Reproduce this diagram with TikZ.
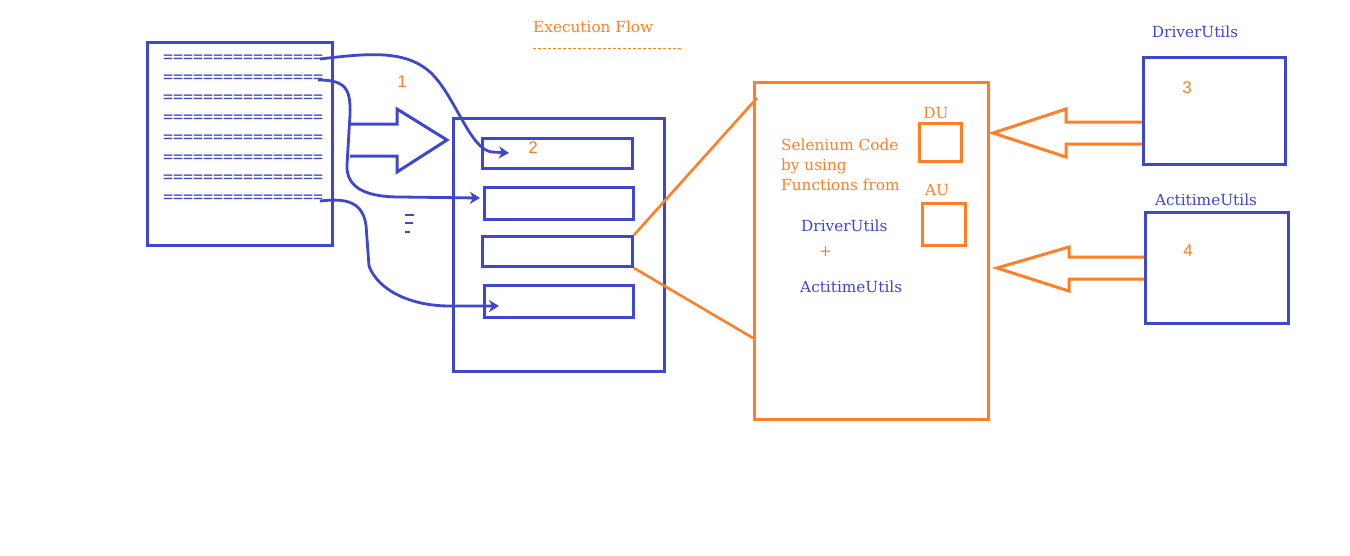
\documentclass[tikz,border=0pt]{standalone}
\usepackage{fontspec}
\setmainfont{DejaVu Serif}
\newfontfamily\numfont{Liberation Sans}
\newfontfamily\eqfont{DejaVu Sans Mono}
\usetikzlibrary{arrows.meta}
\definecolor{pblue}{HTML}{3F48CC}
\definecolor{porange}{HTML}{FF7F27}
\tikzset{
  blbox/.style={draw=pblue, line width=3pt},
  orbox/.style={draw=porange, line width=3pt},
  flowcurve/.style={draw=pblue, line width=2.8pt, -{Stealth[length=10pt,width=12pt,inset=3pt]}},
  orline/.style={draw=porange, line width=2.6pt},
  eqtext/.style={text=pblue, font=\eqfont\fontsize{16.6}{16}\selectfont, anchor=west, inner sep=0pt},
  otext/.style={text=porange, font=\fontsize{15.3}{16}\selectfont, anchor=west, inner sep=0pt},
  btext/.style={text=pblue, font=\fontsize{15.3}{16}\selectfont, anchor=west, inner sep=0pt},
  numtext/.style={text=porange, font=\numfont\fontsize{17}{18}\selectfont, inner sep=0pt},
}
\begin{document}
\begin{tikzpicture}[x=1pt,y=-1pt]
\useasboundingbox[fill=white] (0,0) rectangle (1350,555);

% title
\node[otext] (title) at (533,27) {Execution Flow};
\draw[porange, line width=0.8pt, dash pattern=on 3pt off 2pt] (533,48) coordinate (tl) -- (682,48) coordinate (tr);

% left document
\node[blbox, minimum width=185pt, minimum height=203pt, inner sep=0pt, anchor=north west] (doc) at (146,41) {};
\foreach \i in {0,...,7}{
  \node[eqtext] (eq\i) at (163,{59+20*\i}) {================};
}
\coordinate (l1) at (320,59);
\coordinate (l2) at (318,80);
\coordinate (l8) at (320,201);

% big blue hollow arrow
\draw[blbox, line join=miter] (350,124) -- (397,124) -- (397,109) -- (447,140) -- (397,172) -- (397,156) -- (350,156);
\node[numtext] (n1) at (402,82) {1};

% dots
\draw[pblue, line width=2.5pt] (405,215) -- (414,215) (405,223) -- (413,223) (405,232) -- (410,232);

% middle container
\node[blbox, minimum width=211pt, minimum height=253pt, inner sep=0pt, anchor=north west] (cont) at (452,117) {};
\node[blbox, minimum width=150pt, minimum height=30pt, inner sep=0pt, anchor=north west] (ba) at (481,137) {};
\node[blbox, minimum width=149pt, minimum height=32pt, inner sep=0pt, anchor=north west] (bb) at (483,186) {};
\node[blbox, minimum width=150pt, minimum height=30pt, inner sep=0pt, anchor=north west] (bc) at (481,235) {};
\node[blbox, minimum width=149pt, minimum height=32pt, inner sep=0pt, anchor=north west] (bd) at (483,284) {};
\node[numtext] (n2) at (533,148) {2};

\coordinate (a1) at (509,153);
\coordinate (a2) at (480,198);
\coordinate (a4) at (499,306);

% curves
\draw[flowcurve] (l1) .. controls (370,53) and (405,50) .. (430,72) .. controls (455,95) and (470,150) .. (492,152) -- (a1);
\draw[flowcurve] (l2) .. controls (345,80) and (351,88) .. (350,115) -- (347,165) .. controls (346,190) and (370,197) .. (400,197) -- (a2);
\draw[flowcurve] (l8) .. controls (340,199) and (362,198) .. (366,225) -- (369,266) .. controls (378,290) and (410,306) .. (450,306) -- (a4);

% orange main box
\node[orbox, minimum width=234pt, minimum height=337pt, inner sep=0pt, anchor=north west] (sel) at (753,81) {};
\coordinate (s1) at (757,98);
\coordinate (s2) at (753,338);
\draw[orline] (bc.north east) -- (s1);
\draw[orline] (bc.south east) -- (s2);

\node[otext, align=left, font=\fontsize{15.3}{20}\selectfont] (seltext) at (781,165) {Selenium Code\\by using\\Functions from};
\node[btext] (du1) at (801,226) {DriverUtils};
\node[otext] (plus) at (819,252) {+};
\node[btext] (au1) at (800,287) {ActitimeUtils};

\node[orbox, minimum width=42pt, minimum height=38pt, inner sep=0pt, anchor=north west] (dubox) at (918,122) {};
\node[otext, anchor=center] (dul) at (936,113) {DU};
\node[orbox, minimum width=43pt, minimum height=42pt, inner sep=0pt, anchor=north west] (aubox) at (921,202) {};
\node[otext, anchor=center] (aul) at (937,190) {AU};

% right boxes
\node[blbox, minimum width=142pt, minimum height=107pt, inner sep=0pt, anchor=north west] (drv) at (1142,56) {};
\node[btext, anchor=center] (drvl) at (1195,32) {DriverUtils};
\node[numtext] (n3) at (1187,88) {3};
\node[blbox, minimum width=143pt, minimum height=111pt, inner sep=0pt, anchor=north west] (act) at (1144,211) {};
\node[btext, anchor=center] (actl) at (1206,200) {ActitimeUtils};
\node[numtext] (n4) at (1188,251) {4};

% orange hollow arrows
\draw[orbox, line join=miter] (drv.west |- 0,122) -- (1066,122) -- (1066,109) -- (993,133) -- (1066,157) -- (1066,144) -- (drv.west |- 0,144);
\draw[orbox, line join=miter] (act.west |- 0,257) -- (1069,257) -- (1069,247) -- (997,268) -- (1069,291) -- (1069,279) -- (act.west |- 0,279);
\end{tikzpicture}
\end{document}
